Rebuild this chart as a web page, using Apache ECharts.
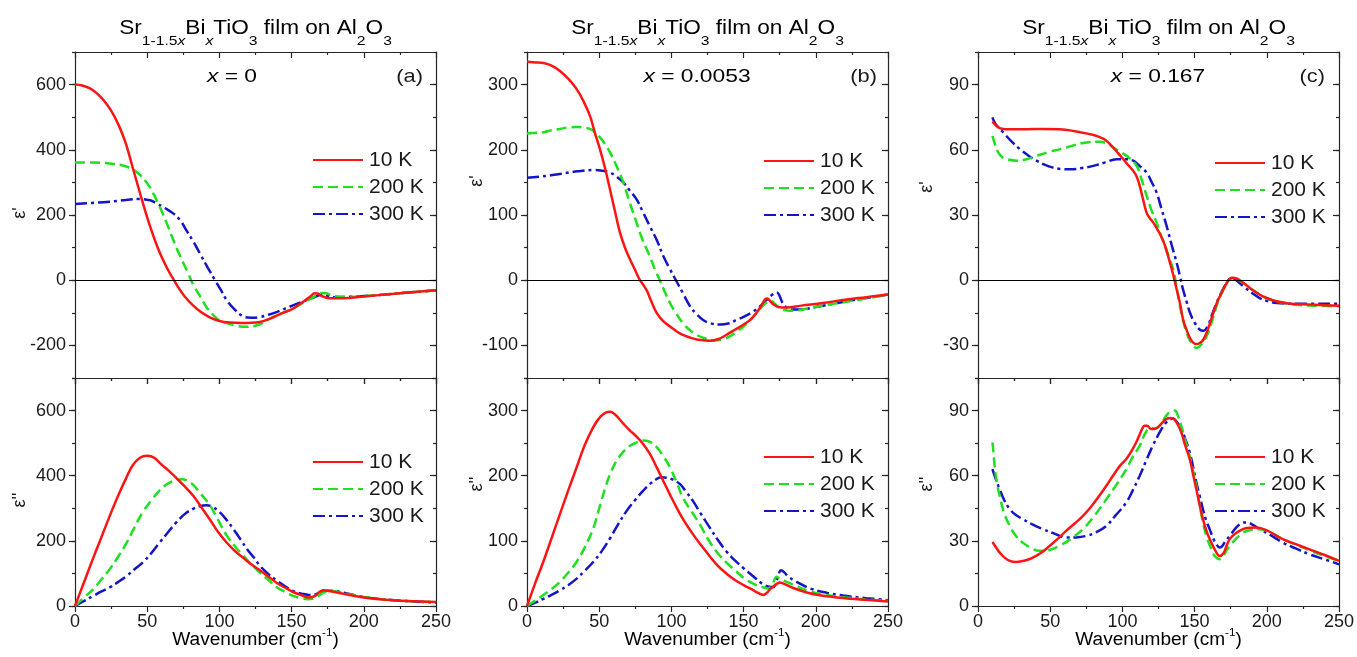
<!DOCTYPE html>
<html>
<head>
<meta charset="utf-8">
<title>Sr1-1.5xBixTiO3 film on Al2O3</title>
<script src="https://cdn.jsdelivr.net/npm/echarts@6/dist/echarts.min.js"></script>
<style>
  html, body { margin: 0; padding: 0; background: #fff; }
  #main { width: 1357px; height: 657px; }
</style>
</head>
<body>
<div id="main"></div>
<script>
// ---- data: [wavenumber cm-1, value] ----
// (a) x = 0, real part
var epsReA_10K = [[0,600],[5,597],[10,589],[15,574],[20,551],[25,520],[30,478],[35,422],[40,345],[46,252],[52,165],[58,92],[64,35],[68,4],[72,-25],[76,-50],[81,-74],[87,-97],[93,-113],[100,-125],[108,-130],[115,-131],[128,-128],[135,-118],[142,-104],[151,-87],[158,-66],[163,-50],[166,-40],[168,-41],[171,-49],[176,-55],[185,-55],[200,-50],[225,-40],[250,-31]];
var epsReA_200K = [[0,361],[12,361],[24,358],[33,352],[40,340],[45,323],[50,297],[54,268],[59,222],[63.5,175],[68,124],[73,72],[78,25],[82,-15],[87,-52],[91,-82],[96,-108],[100,-123],[110,-138],[119,-143],[128,-135],[137,-113],[145,-98],[151,-87],[157,-72],[163,-57],[168,-45],[171,-39],[174,-40],[177,-45],[182,-50],[190,-51],[205,-47],[225,-40],[250,-31]];
var epsReA_300K = [[0,234],[12,237],[24,241],[35,246],[45,249],[52,245],[56,237],[62,222],[68,205],[73,183],[77,154],[82,118],[86.5,82],[92,38],[97,0],[101,-30],[105,-61],[110,-87],[116.5,-111],[122,-115],[128,-113],[134,-106],[140,-97],[151,-77],[160,-62],[166,-52],[170,-45],[172,-44],[175,-48],[180,-52],[190,-51],[205,-47],[225,-40],[250,-31]];
// (a) imaginary part
var epsImA_10K = [[0,0],[6,70],[12,140],[18,208],[24,276],[30,340],[36,398],[40,432],[45,455],[50,461],[55,455],[59,438],[65,415],[70.4,392],[76,367],[82,338],[88,300],[93.5,265],[99,228],[105,195],[111,168],[116.5,148],[122,128],[128,110],[134,90],[140,70],[146,55],[151,43],[157,33],[162,26],[166,30],[169,42],[172,48],[176,46],[180,43],[190,34],[200,26],[215,19],[230,15],[250,12]];
var epsImA_200K = [[0,0],[6,25],[12.7,52],[18,80],[24,113],[30,152],[36,196],[41,240],[47,289],[53,325],[58.8,356],[64,375],[70,387],[74,389],[78,384],[82,371],[87,345],[93.5,309],[99,265],[105,217],[111,182],[116.5,155],[122,128],[128,103],[134,80],[140,57],[146,42],[151,31],[156,25],[161,21],[165,23],[168.5,31],[172,41],[175,46],[180,45],[190,36],[200,28],[215,20],[230,15],[250,12]];
var epsImA_300K = [[0,0],[6,15],[12.7,31],[18,44],[24,57],[30,74],[36,93],[41,112],[47,134],[53,163],[58.8,196],[64,224],[70,256],[76,282],[82,299],[87,307],[91,309],[95,305],[100,289],[105,264],[110,234],[115,202],[119,175],[124,148],[128,124],[134,98],[140,77],[146,59],[151,46],[157,38],[162,34],[166,35],[170,42],[175,47],[179,47],[185,42],[197,30],[210,22],[230,15],[250,11]];

// (b) x = 0.0053, real part
var epsReB_10K = [[0,335],[6,334],[11.3,333],[17,329],[22.8,321],[29,308],[34.4,293],[39,275],[43.6,252],[47,226],[50.5,201],[54,172],[57.5,139],[61,105],[64.4,73],[68,49],[71.3,32],[75,15],[78,1],[80.5,-7],[83,-16],[86,-32],[89.8,-50],[94,-62],[99,-71],[104,-79],[108,-84],[113,-88],[117.5,-91],[122,-92],[127,-93],[133,-90],[138,-84],[144,-76],[150,-68],[155,-60],[159,-50],[162,-40],[165,-29],[166.5,-28],[168,-31],[170.5,-37],[174,-41],[180,-42],[190,-39],[205,-35],[220,-30],[235,-26],[250,-22]];
var epsReB_200K = [[0,225],[6,226],[11.3,227],[17,230],[22.8,232],[28,234],[34.4,235],[39,234],[43.6,232],[47,227],[50.5,219],[54,209],[57.5,196],[62,175],[66.7,150],[71,120],[75.9,88],[80,62],[85,37],[88.5,17],[92,0],[95.5,-18],[99,-35],[103,-50],[108,-66],[113,-77],[117.5,-84],[123,-89],[129,-92],[135,-91],[140.6,-86],[145,-79],[150,-71],[155,-60],[161,-45],[164,-38],[167,-32],[168.5,-31],[170,-33],[173,-39],[175,-43],[179,-46],[184,-47],[195,-43],[210,-37],[230,-30],[250,-22]];
var epsReB_300K = [[0,157],[10,159],[22.8,163],[35,167],[46,169],[52,168],[57.5,165],[62,159],[66.7,150],[71,138],[75.9,124],[80,106],[85,83],[90,61],[94.4,37],[99,17],[103.6,-2],[108,-20],[112.9,-40],[117,-51],[122,-61],[127,-66],[133.6,-68],[140,-66],[145,-61],[151,-55],[156.7,-48],[161,-41],[166,-30],[170,-22],[172.9,-19],[174.5,-22],[176,-30],[177.5,-37],[180,-42],[184,-45],[190,-45],[200,-41],[215,-35],[230,-29],[250,-22]];
// (b) imaginary part
var epsImB_10K = [[0,0],[5.5,34],[11.3,68],[17,104],[22.8,141],[28.5,177],[34.4,213],[40,247],[46,275],[51,291],[54.5,297],[57.5,298],[61,294],[66.7,280],[71,270],[75.9,260],[80,250],[85,234],[90,212],[94.4,192],[99,171],[103.6,151],[109,130],[115,110],[121,92],[126.7,76],[132,62],[138,50],[144,40],[150,32],[156,25],[160,20],[163.6,17],[166,20],[168,25],[170.5,30],[173,34],[175,36],[178,34],[184,28],[195,20],[207.5,15],[225,11],[250,7]];
var epsImB_200K = [[0,0],[5.5,8],[11.3,17],[17,26],[22.8,37],[28.5,51],[34.4,68],[40,90],[46,120],[50,150],[54,180],[58,205],[62,223],[66,235],[70,244],[75,250],[80.5,254],[85,252],[89.8,244],[94.4,230],[99,213],[103.6,190],[108,166],[114,145],[119.8,125],[125,104],[131,84],[138,67],[145,53],[152,40],[159,32],[163,29],[167,27],[170,34],[172.9,45],[175,42],[179.8,37],[186,31],[195,23],[210,16],[230,11],[250,8]];
var epsImB_300K = [[0,0],[5.5,5],[11.3,11],[17,17],[22.8,24],[28.5,32],[34.4,42],[40,54],[46,68],[52,85],[57.5,104],[63,125],[69,146],[75,163],[80.5,177],[85,187],[89.8,195],[93,197.5],[96.7,197],[101,194],[106,187],[110,176],[115,161],[120,143],[126.7,120],[132,102],[138,84],[144,70],[150,58],[157,45],[163.6,33],[167,30],[170.5,29],[173,40],[176,55],[178,52],[181,45],[186,38],[196,27],[208,20],[219,16],[235,12],[250,9]];

// (c) x = 0.167, real part
var epsReC_10K = [[10,73],[12,71.5],[15,70],[20,69.5],[33.7,69.5],[45,69.6],[56.8,69.5],[68,68.4],[80,66.8],[87,65],[90,63.5],[93.7,61],[97,58.5],[100.6,55.7],[104,53],[107.5,50.3],[110,47.5],[112,43.4],[114,38],[116.8,31],[119,28.5],[121.4,26.5],[125,22.5],[128.3,18],[131,12.5],[133,8],[135,3],[137.6,-4.3],[140,-11],[142,-18],[144.5,-23],[146.8,-26.6],[149,-28.7],[151.4,-29.4],[154,-28.7],[156,-27.4],[159,-23],[163,-15],[166,-9.5],[169.9,-4.3],[173,-0.5],[175.6,1.1],[178,1],[183.7,-1.2],[190,-4.5],[195,-6.6],[200,-8.2],[206.8,-9.7],[215,-10.7],[229.9,-11.2],[250,-11.7]];
var epsReC_200K = [[10,66.4],[12,62],[14,58.8],[17,56.5],[19.8,55.7],[26.8,55],[33,55.5],[40.6,57.2],[48,58.8],[56.8,60.3],[66,62],[75.2,63.4],[84.5,63.7],[90,62.7],[93.7,61],[98,59.3],[103,57.2],[106,55.5],[109.9,52.6],[113,47],[116.8,38.8],[120,32.5],[123.7,26.5],[127,20],[130.6,14],[133,9],[135.2,5],[137.5,-3],[139.9,-12],[142,-18.5],[144.5,-24.3],[147.5,-28.5],[151.4,-31.2],[154.5,-29.7],[158.3,-25.8],[162,-19],[165.2,-12],[169,-5.5],[172.2,-1.2],[175,0.6],[177.9,1.1],[182,-0.6],[188.3,-3.5],[195,-6.5],[202,-8.9],[210,-10.3],[218.3,-11.2],[235,-11.8],[250,-12]];
var epsReC_300K = [[10,74.9],[12,72],[17.5,68],[23,64],[29,60.3],[35,57.3],[40.6,55],[46,53.2],[52,51.8],[57,51.2],[63.7,51],[72,51.6],[79.9,52.6],[88,54.2],[96,55.7],[102,55.7],[107.5,55],[112,52.5],[116.8,49.5],[120,45.5],[123.7,40.3],[127,33],[130.6,25],[134,16.5],[137.6,8],[140,1.5],[142,-4.3],[144.5,-10],[146.8,-15],[150,-19.5],[153.7,-22.8],[156,-23.3],[159.5,-20.5],[162,-16],[165.2,-10.5],[169,-5],[172.2,-1.2],[174,0.5],[175.6,1],[178,0.5],[183.7,-2.8],[190,-6],[195,-8.2],[200,-9.5],[206.8,-10.5],[220,-10.8],[250,-10.8]];
// (c) imaginary part
var epsImC_10K = [[10,29.5],[12,27.5],[15,24.6],[18,22.5],[22,20.8],[26.5,20.3],[32,20.8],[38,22.3],[44,24.6],[49.6,27.7],[55,30.8],[61,34.6],[67,38],[72.7,41.5],[78,45.5],[84,50.8],[89,55.5],[93.5,60],[98,64.3],[102.7,67.7],[106,71],[109.6,75.4],[112,79],[114,82],[115.4,83],[117,83],[120,81.5],[122,81.5],[124.6,82.3],[127,84],[130.4,86.1],[133,86.6],[135,86.4],[138,84],[140.8,80],[143,75],[146.6,67.7],[149,60.5],[151.2,53.8],[153.5,46.5],[155.8,40],[158.5,34],[161.6,29.2],[164,26],[167.3,23],[170,24.3],[172,27.5],[174.3,30.8],[178,33.3],[183.5,35.4],[188,36],[192.7,36.1],[200,34.8],[211,30.8],[220,28.5],[229.6,26.1],[240,23.5],[250,20.8]];
var epsImC_200K = [[10,75.4],[10.8,70],[11.5,64.6],[13,57],[15,50.8],[18,43],[22,36.9],[26,32.5],[31,29.2],[36,27],[42.7,25.4],[49,25.7],[56.5,27.7],[64,30.8],[72.7,35.4],[80,41],[88.9,49.2],[96,56],[102.7,63],[107,68.5],[112,73.8],[115,78.5],[117.7,81.5],[120,82],[122,81.8],[124.6,82.3],[127,84],[130.4,87.7],[133,89.5],[136.2,90],[138.5,87.5],[140.8,83],[143,77.5],[146.6,69.2],[149,62],[151.2,55.4],[153.5,46.5],[155.8,38.4],[158.5,31.5],[161.6,26.1],[164,23],[167.3,21.5],[170,23],[172,25.5],[174.3,27.7],[178,30.5],[183.5,33.8],[189,35],[195,35.4],[203,33.8],[211,30.8],[220,28.3],[230,25.5],[240,23],[250,20.8]];
var epsImC_300K = [[10,63],[12,59],[15,53.8],[18,49],[22,44.6],[26,42],[31,40],[38,37.5],[45,35.4],[53,33.3],[61,31.5],[68,31.6],[75,32.3],[82,34],[88.9,36.9],[95,41.5],[102.7,47.7],[107,53],[112,60],[116.5,67],[121,73.8],[125,79],[128,82.5],[130.4,84.6],[133,86],[135,86.4],[138,84.5],[140.8,81.5],[143.5,77],[146.6,70.8],[149,64],[151,57.5],[153.5,50.8],[156,44],[158,39.4],[160.4,35.4],[163,31],[165,28.5],[167.3,26.9],[169,27.5],[171,29.5],[174.3,32.3],[178,35.5],[181,37.5],[183.5,38.4],[186,38.5],[190,37.5],[195,35.4],[203,32.5],[211,29.2],[220,26.5],[229.6,23.8],[240,21.5],[250,19.2]];

// tick labels
var xTicks = [0, 50, 100, 150, 200, 250];
var yTicksReA = [-200, 0, 200, 400, 600];
var yTicksImA = [0, 200, 400, 600];
var yTicksReB = [-100, 0, 100, 200, 300];
var yTicksImB = [0, 100, 200, 300];
var yTicksReC = [-30, 0, 30, 60, 90];
var yTicksImC = [0, 30, 60, 90];

var temps = ['10 K', '200 K', '300 K'];
var compositions = ['0', '0.0053', '0.167'];
var tags = ['(a)', '(b)', '(c)'];

// ---- chart ----
var chart = echarts.init(document.getElementById('main'));
var FONT = '"Liberation Sans", Arial, Helvetica, sans-serif';
var INK = '#1a1a1a';
var AXIS = '#262626';
var colors = ['#ff1414', '#1ee01e', '#1414c8'];
var dashes = ['solid', [10, 5], [12, 4, 3, 4]];

var panels = [
  { left: 75,  re: [epsReA_10K, epsReA_200K, epsReA_300K], im: [epsImA_10K, epsImA_200K, epsImA_300K],
    reY: { min: -300, max: 700, ticks: yTicksReA, minor: 100 }, imY: { min: 0, max: 700, ticks: yTicksImA, minor: 100 },
    legX: 312, legTop: [149, 451], noteX: 232, tagX: 423, nameX: 20, nameY: [213, 500] },
  { left: 527, re: [epsReB_10K, epsReB_200K, epsReB_300K], im: [epsImB_10K, epsImB_200K, epsImB_300K],
    reY: { min: -150, max: 350, ticks: yTicksReB, minor: 50 }, imY: { min: 0, max: 350, ticks: yTicksImB, minor: 50 },
    legX: 763, legTop: [150, 446], noteX: 697, tagX: 877, nameX: 477, nameY: [181, 484] },
  { left: 978, re: [epsReC_10K, epsReC_200K, epsReC_300K], im: [epsImC_10K, epsImC_200K, epsImC_300K],
    reY: { min: -45, max: 105, ticks: yTicksReC, minor: 15 }, imY: { min: 0, max: 105, ticks: yTicksImC, minor: 15 },
    legX: 1214, legTop: [152, 446], noteX: 1158, tagX: 1325, nameX: 927, nameY: [187, 484] }
];
var W = 361;
var rows = [{ top: 52, height: 326 }, { top: 378, height: 228 }];

var grids = [], xAxes = [], yAxes = [], series = [], legends = [], graphics = [];
var lineSt = { color: AXIS, width: 1.2 };
var tickFont = { fontSize: 18, color: INK, fontFamily: FONT };

function makeXAxes(g, labels) {
  var base = { type: 'value', gridIndex: g, min: 0, max: 250, interval: 50, splitLine: { show: false } };
  xAxes.push(Object.assign({}, base, {
    position: 'bottom',
    axisLine: { show: true, onZero: false, lineStyle: lineSt },
    axisTick: { show: true, inside: false, length: 6, lineStyle: lineSt },
    minorTick: { show: true, splitNumber: 2, length: 3, lineStyle: lineSt },
    axisLabel: Object.assign({ show: labels, customValues: xTicks, margin: 7 }, tickFont)
  }));
  xAxes.push(Object.assign({}, base, {
    position: 'top',
    axisLine: { show: true, onZero: false, lineStyle: lineSt },
    axisTick: { show: true, inside: true, length: 6, lineStyle: lineSt },
    minorTick: { show: true, splitNumber: 2, length: 3, lineStyle: lineSt },
    axisLabel: { show: false }
  }));
}

function makeYAxes(g, cfg) {
  var base = { type: 'value', gridIndex: g, min: cfg.min, max: cfg.max, interval: cfg.minor, splitLine: { show: false } };
  // left, major ticks and labels
  yAxes.push(Object.assign({}, base, {
    position: 'left',
    axisLine: { show: true, onZero: false, lineStyle: lineSt },
    axisTick: { show: true, inside: false, length: 6, customValues: cfg.ticks, lineStyle: lineSt },
    axisLabel: Object.assign({ show: true, customValues: cfg.ticks, margin: 9 }, tickFont)
  }));
  // left, minor ticks
  yAxes.push(Object.assign({}, base, {
    position: 'left',
    axisLine: { show: false, onZero: false },
    axisTick: { show: true, inside: false, length: 3, lineStyle: lineSt },
    axisLabel: { show: false }
  }));
  // right mirror
  yAxes.push(Object.assign({}, base, {
    position: 'right',
    axisLine: { show: true, onZero: false, lineStyle: lineSt },
    axisTick: { show: true, inside: true, length: 6, customValues: cfg.ticks, lineStyle: lineSt },
    axisLabel: { show: false }
  }));
  yAxes.push(Object.assign({}, base, {
    position: 'right',
    axisLine: { show: false, onZero: false },
    axisTick: { show: true, inside: true, length: 3, lineStyle: lineSt },
    axisLabel: { show: false }
  }));
}

var richTitle = {
  n: { fontSize: 19.5, lineHeight: 38, fontFamily: FONT, color: INK },
  s: { fontSize: 13.5, lineHeight: 12, verticalAlign: 'bottom', fontFamily: FONT, color: INK },
  si: { fontSize: 13.5, lineHeight: 12, verticalAlign: 'bottom', fontStyle: 'italic', fontFamily: FONT, color: INK }
};

panels.forEach(function (p, pi) {
  [0, 1].forEach(function (r) {
    var g = pi * 2 + r;
    grids.push({ left: p.left, top: rows[r].top, width: W, height: rows[r].height, outerBoundsMode: 'none' });
    makeXAxes(g, r === 1);
    makeYAxes(g, r === 0 ? p.reY : p.imY);
    var sets = r === 0 ? p.re : p.im;
    temps.forEach(function (t, ti) {
      var s = {
        name: t, type: 'line', xAxisIndex: 2 * g, yAxisIndex: 4 * g,
        data: sets[ti], showSymbol: false, symbol: 'none',
        smooth: 0.4,
        lineStyle: { color: colors[ti], width: 2.5, type: dashes[ti] },
        itemStyle: { color: colors[ti] },
        z: 3 - ti
      };
      if (r === 0 && ti === 0) {
        s.markLine = {
          silent: true, symbol: 'none', label: { show: false },
          lineStyle: { color: '#000', width: 1, type: 'solid' },
          data: [{ yAxis: 0 }]
        };
      }
      series.push(s);
    });
    legends.push({
      left: p.legX, top: p.legTop[r], orient: 'vertical', padding: 0,
      itemWidth: 50, itemHeight: 14, itemGap: 5, selectedMode: false,
      data: temps,
      itemStyle: { opacity: 0, borderWidth: 0 },
      textStyle: { fontSize: 21, lineHeight: 22, color: INK, fontFamily: FONT, padding: [0, 0, 0, 1] }
    });
    graphics.push({
      type: 'text', x: p.nameX, y: p.nameY[r], rotation: Math.PI / 2,
      style: { text: r === 0 ? "ε'" : "ε''", font: '18px ' + FONT, fill: INK, align: 'center', verticalAlign: 'middle' }
    });
  });

  var cx = p.left + W / 2;
  graphics.push({
    type: 'text', x: cx, y: 29, scaleX: 1.16,
    style: {
      text: '{n|Sr}{s|1-1.5}{si|x}{n|Bi}{si|x}{n|TiO}{s|3}{n| film on Al}{s|2}{n|O}{s|3}',
      rich: richTitle, align: 'center', verticalAlign: 'middle'
    }
  });
  graphics.push({
    type: 'text', x: p.noteX, y: 77, scaleX: 1.2,
    style: {
      text: '{i|x}{n| = ' + compositions[pi] + '}',
      rich: {
        i: { fontSize: 19, fontStyle: 'italic', fontFamily: FONT, color: INK },
        n: { fontSize: 19, fontFamily: FONT, color: INK }
      },
      align: 'center', verticalAlign: 'middle'
    }
  });
  graphics.push({
    type: 'text', x: p.tagX, y: 77, scaleX: 1.15,
    style: { text: tags[pi], font: '19px ' + FONT, fill: INK, align: 'right', verticalAlign: 'middle' }
  });
  graphics.push({
    type: 'text', x: cx, y: 640, scaleX: 1.06,
    style: {
      text: '{n|Wavenumber (cm}{u|-1}{n|)}',
      rich: {
        n: { fontSize: 18, lineHeight: 26, fontFamily: FONT, color: INK },
        u: { fontSize: 11, lineHeight: 10, verticalAlign: 'top', fontFamily: FONT, color: INK }
      },
      align: 'center', verticalAlign: 'middle'
    }
  });
});

chart.setOption({
  animation: false,
  backgroundColor: '#fff',
  textStyle: { fontFamily: FONT },
  grid: grids,
  xAxis: xAxes,
  yAxis: yAxes,
  legend: legends,
  series: series,
  graphic: graphics
});
</script>
</body>
</html>
